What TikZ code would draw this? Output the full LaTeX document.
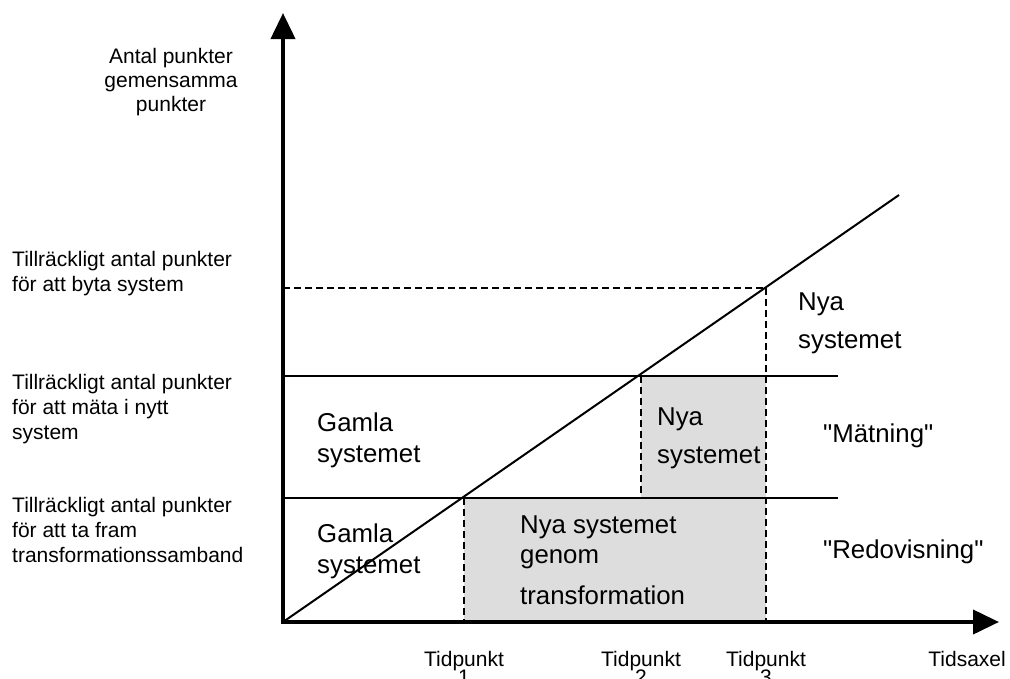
\documentclass[tikz,border=0pt]{standalone}
\usepackage{fontspec}
\setmainfont{Liberation Sans}
\usetikzlibrary{arrows.meta}

\definecolor{shadegray}{RGB}{221,221,221}
\newcommand\ticklines{\fontsize{21}{18}\selectfont\lineskiplimit=-30pt\relax}

\begin{document}
\begin{tikzpicture}[x=1pt,y=-1pt,>={Triangle[length=26pt,width=24pt]}]
\tikzset{
  axis/.style={draw=black, line width=4pt},
  level/.style={draw=black, line width=2pt},
  guide/.style={draw=black, line width=2pt, dash pattern=on 7pt off 4pt},
  side/.style={font=\fontsize{21}{25}\selectfont, align=left, anchor=base west, inner sep=0pt},
  region/.style={font=\fontsize{25.8}{31}\selectfont, align=left, anchor=base west, inner sep=0pt},
  tick/.style={font=\ticklines, align=center, anchor=base, inner sep=0pt}
}
\useasboundingbox (0,0) rectangle (1010,678);

\coordinate (O) at (283,622);
\coordinate (ytop) at (283,13);
\coordinate (xend) at (999,622);
\coordinate (rcut) at (838,622);
\coordinate (t1) at (464,498);
\coordinate (t2) at (641,376);
\coordinate (t3) at (766,288);
\coordinate (lend) at (899,195);

% shaded areas
\fill[shadegray] (t1) rectangle (O -| t3);
\fill[shadegray] (t2) rectangle (t1 -| t3);

% levels and time marks
\draw[level] (O |- t2) -- (rcut |- t2);
\draw[level] (O |- t1) -- (rcut |- t1);
\draw[guide] (O |- t3) -- (t3);
\draw[guide] (t1) -- (t1 |- O);
\draw[guide] (t2) -- (t2 |- t1);
\draw[guide] (t3) -- (t3 |- O);
\draw[level] (O) -- (lend);
\draw[axis,<->] (ytop) -- (O) -- (xend);

% axis texts (base = last line)
\node[side,align=center,anchor=base,font=\fontsize{21}{24}\selectfont] (ylabel) at (171,111) {Antal punkter\\gemensamma\\punkter};
\node[side] (swap) at (12,291) {Tillräckligt antal punkter\\för att byta system};
\node[side] (measure) at (12,439) {Tillräckligt antal punkter\\för att mäta i nytt\\system};
\node[side] (transf) at (12,562) {Tillräckligt antal punkter\\för att ta fram\\transformationssamband};

\node[tick] (tp1) at (464,684) {Tidpunkt\\1};
\node[tick] (tp2) at (641,684) {Tidpunkt\\2};
\node[tick] (tp3) at (766,684) {Tidpunkt\\3};
\node[tick,anchor=base east] (taxis) at (1006,666) {Tidsaxel};

% region texts
\node[region] (old1) at (317,462) {Gamla\\systemet};
\node[region] (old2) at (317,573) {Gamla\\systemet};
\node[region] (new1) at (798,348) {Nya\\[7pt]systemet};
\node[region] (new2) at (657,463) {Nya\\[7pt]systemet};
\node[region] (new3) at (520,604) {Nya systemet\\[-1pt]genom\\[10pt]transformation};
\node[region] (phase1) at (823,442) {\textquotedbl Mätning\textquotedbl};
\node[region] (phase2) at (823,558) {\textquotedbl Redovisning\textquotedbl};
\end{tikzpicture}
\end{document}
